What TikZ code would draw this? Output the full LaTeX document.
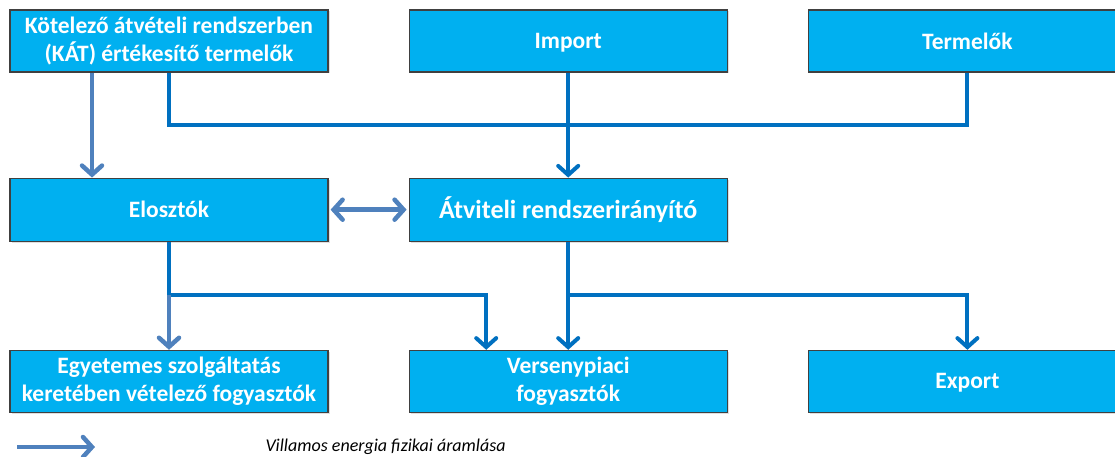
\documentclass[tikz,border=0pt]{standalone}
\usepackage{fontspec}
\setmainfont{Carlito}
\usetikzlibrary{positioning, arrows.meta, shadows}

\definecolor{boxblue}{RGB}{0,176,240}
\definecolor{flowblue}{RGB}{0,112,192}
\definecolor{lightblue}{RGB}{79,129,189}

\begin{document}
\begin{tikzpicture}[
  x=1pt, y=1pt,
  box/.style={draw=black!75, line width=1.2pt, fill=boxblue, text=white,
    font=\bfseries\fontsize{23.5}{28}\selectfont, align=center,
    minimum width=318pt, minimum height=62pt,
    drop shadow={shadow xshift=1.5pt, shadow yshift=-1.5pt, opacity=.25}},
  oneline/.style={text height=17pt, text depth=2pt},
  flow/.style={draw=flowblue, line width=4pt},
  light/.style={draw=lightblue, line width=4.5pt},
  >={Straight Barb[length=9pt, width=20pt, line cap=round]},
  node distance=105pt and 80pt
]
\useasboundingbox (0,0) rectangle (1115,-457);

% Top row
\node[box] (kat) at (169,-41) {Kötelező átvételi rendszerben\\(KÁT) értékesítő termelők};
\node[box, oneline, right=of kat] (import) {Import};
\node[box, right=of import] (term) {Termelők};

% Middle row
\node[box, below=of kat, minimum height=63pt] (elo) {Elosztók};
\node[box, font=\bfseries\fontsize{26}{28}\selectfont, below=of import, minimum height=63pt] (atv) {Átviteli rendszerirányító};

% Bottom row
\node[box, below=108pt of elo] (egy) {Egyetemes szolgáltatás\\keretében vételező fogyasztók};
\node[box, below=108pt of atv] (vers) {Versenypiaci\\fogyasztók};
\node[box, oneline] (exp) at (vers -| term) {Export};

% Flows into the grid operator
\draw[light, ->] ([xshift=-77pt]kat.south) -- ([xshift=-77pt]elo.north);
\draw[flow] (kat.south) -- ++(0,-52) -| (term.south);
\draw[flow, ->] (import) -- (atv);
\draw[light, <->, shorten <=2pt, shorten >=2pt] (elo) -- (atv);

% Flows to consumers
\draw[flow, ->] (elo.south) -- ++(0,-53) coordinate (eloj) -| ([xshift=-82pt]vers.north);
\draw[light, ->] (eloj) -- (egy.north);
\draw[flow, ->] (atv) -- (vers);
\draw[flow, ->] (atv.south) -- ++(0,-53) -| (exp.north);

% Legend
\coordinate (legs) at (17,-447);
\coordinate (lege) at (95,-447);
\draw[light, ->] (legs) -- (lege);
\node[anchor=west, font=\itshape\fontsize{18}{20}\selectfont] (legtxt) at (262,-447) {Villamos energia fizikai áramlása};
\end{tikzpicture}
\end{document}
